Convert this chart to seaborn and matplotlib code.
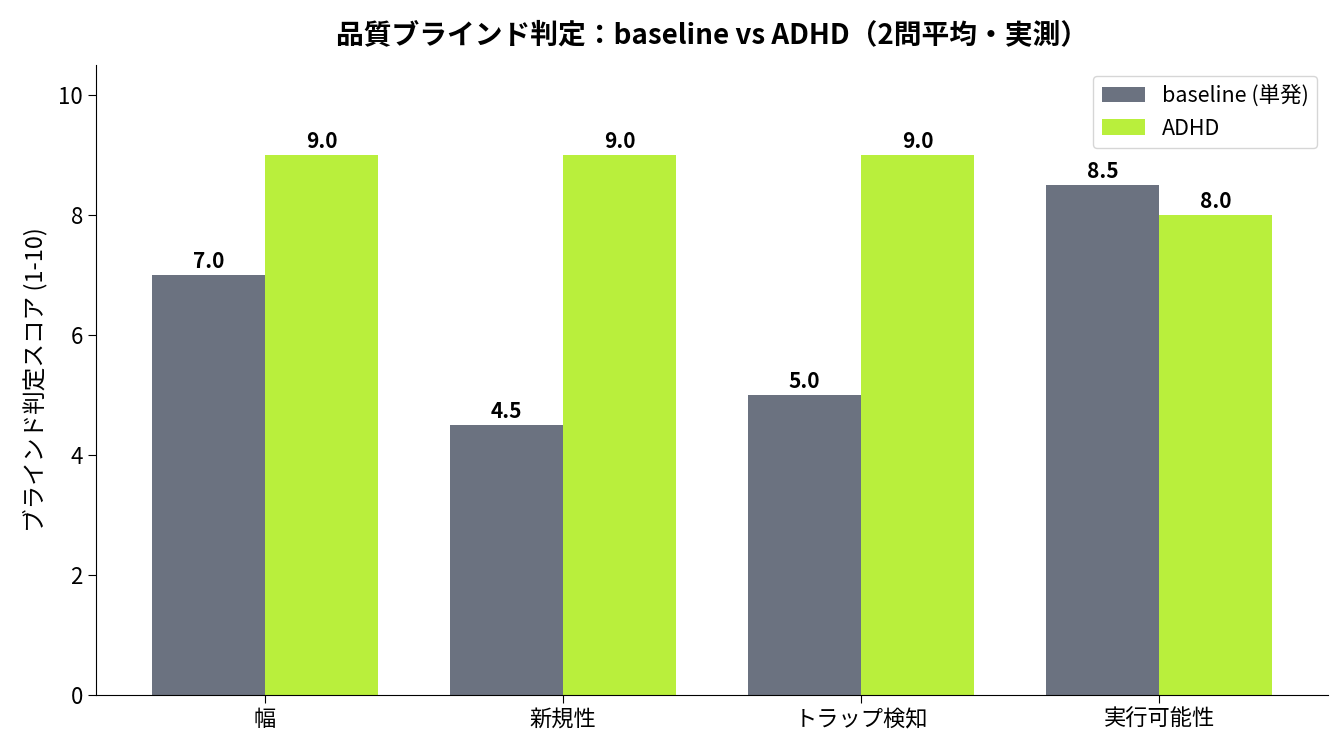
import pandas as pd
import matplotlib
matplotlib.use('Agg')
import matplotlib.pyplot as plt
import seaborn as sns

# データ
categories = ['幅', '新規性', 'トラップ検知', '実行可能性']
baseline_scores = [7.0, 4.5, 5.0, 8.5]
adhd_scores = [9.0, 9.0, 9.0, 8.0]
series_names = ['baseline (単発)', 'ADHD']
colors = ['#6b7280', '#b9ef3c']

df = pd.DataFrame({
    'category': categories * 2,
    'score': baseline_scores + adhd_scores,
    'series': [series_names[0]] * len(categories) + [series_names[1]] * len(categories),
})

sns.set_style('ticks')
plt.rcParams['font.family'] = ['Noto Sans CJK JP', 'DejaVu Sans']
plt.rcParams['text.color'] = 'black'
plt.rcParams['axes.labelcolor'] = 'black'
plt.rcParams['xtick.color'] = 'black'
plt.rcParams['ytick.color'] = 'black'
plt.rcParams['axes.edgecolor'] = 'black'

fig, ax = plt.subplots(figsize=(13.43, 7.52), dpi=100)
sns.barplot(data=df, x='category', y='score', hue='series', order=categories,
            hue_order=series_names, palette=colors, width=0.76, saturation=1,
            errorbar=None, linewidth=0, ax=ax)

# 値ラベル
for container in ax.containers:
    ax.bar_label(container, fmt='%.1f', fontsize=15, fontweight='bold', padding=2)

ax.set_ylim(0, 10.5)
ax.set_xlim(-0.567, 3.567)
ax.set_xlabel('')
ax.set_ylabel('ブラインド判定スコア (1-10)', fontsize=17, labelpad=8)
ax.set_title('品質ブラインド判定：baseline vs ADHD（2問平均・実測）',
             fontsize=20, fontweight='bold', pad=16)
ax.tick_params(axis='both', labelsize=16, length=6)
ax.legend(title=None, fontsize=15.5, loc='upper right', frameon=True)
sns.despine(ax=ax)

fig.subplots_adjust(left=0.0715, right=0.989, bottom=0.076, top=0.9135)
plt.savefig('out.png', dpi=100)
